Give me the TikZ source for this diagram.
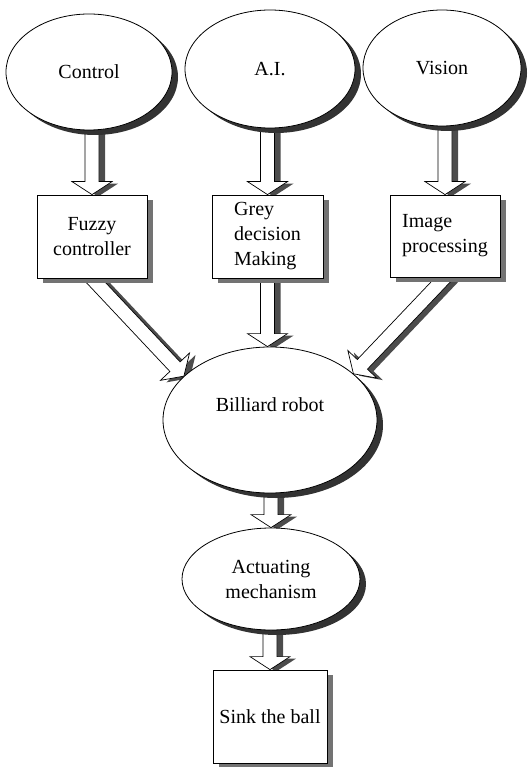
\documentclass[tikz,border=0pt]{standalone}
\usepackage{fontspec}
\setmainfont{Liberation Serif}
\usetikzlibrary{shapes.geometric,calc}
\pgfdeclarelayer{bg}
\pgfdeclarelayer{sh}
\pgfsetlayers{bg,sh,main}
\tikzset{
  txt/.style={font=\fontsize{20}{25}\selectfont},
  ell/.style={ellipse, draw=black, line width=0.8pt, fill=white, inner sep=0pt, align=center, txt},
  box/.style={rectangle, draw=black, line width=0.8pt, fill=white, inner sep=0pt, txt},
  ellshadow/.style={fill=black!80},
  boxshadow/.style={fill=black!55},
  arrmain/.style={draw=black, line width=0.7pt, fill=white, line join=miter},
  arrshadow/.style={fill=black!70},
}
\newcommand{\arrpoly}[3]{%
  \coordinate (qa) at #2;
  \coordinate (qb) at #3;
  \coordinate (qh) at ($(qb)!13pt!(qa)$);
  \path[#1] ($(qa)!7pt!90:(qb)$) -- ($(qh)!7pt!90:(qb)$) -- ($(qh)!20pt!90:(qb)$) -- (qb)
    -- ($(qh)!20pt!-90:(qb)$) -- ($(qh)!7pt!-90:(qb)$) -- ($(qa)!7pt!-90:(qb)$) -- cycle;
}
\newcommand{\blockarr}[2]{%
  \begin{pgfonlayer}{bg}
    \coordinate (pa) at #1;
    \coordinate (pb) at #2;
    \arrpoly{arrshadow}{($(pa)+(6pt,-2pt)$)}{($(pb)+(6pt,-2pt)$)}
    \arrpoly{arrmain}{(pa)}{(pb)}
  \end{pgfonlayer}}
\newcommand{\ellshad}[3]{%
  \begin{pgfonlayer}{sh}
    \fill[ellshadow] ($(#1.center)+(6pt,-5pt)$) ellipse [x radius=#2pt, y radius=#3pt];
  \end{pgfonlayer}}
\newcommand{\boxshad}[3]{%
  \begin{pgfonlayer}{sh}
    \path[boxshadow] ($(#1.center)+(6pt,-5pt)$) ++(-#2pt,-#3pt) -- ++(0pt,2*#3pt) -- ++(2*#2pt,0pt) -- ++(0pt,-2*#3pt) -- cycle;
  \end{pgfonlayer}}
\begin{document}
\begin{tikzpicture}[x=1pt,y=-1pt]
\useasboundingbox (0,0) rectangle (527,767);
\node[ell, minimum width=166pt, minimum height=116pt] (ctrl) at (89,72) {Control};
\node[ell, minimum width=170pt, minimum height=118pt] (ai) at (270,69) {A.I.};
\node[ell, minimum width=158pt, minimum height=116pt] (vis) at (442,68) {Vision};
\node[box, minimum width=110pt, minimum height=83pt, align=center] (fuzzy) at (92,236.5) {Fuzzy\\controller};
\node[box, minimum width=111pt, minimum height=83pt, align=left] (grey) at (267.5,236.5) {Grey\\ decision\\ Making};
\node[box, minimum width=110pt, minimum height=82pt, align=left] (img) at (445,236) {Image\\processing};
\node[ell, minimum width=214pt, minimum height=146pt] (bil) at (270,420) {Billiard robot\\[6pt]};
\node[ell, minimum width=178pt, minimum height=102pt] (act) at (271,579) {Actuating\\mechanism};
\node[box, minimum width=114pt, minimum height=93pt] (sink) at (270,716.5) {Sink the ball};
\ellshad{ctrl}{83}{58}
\ellshad{ai}{85}{59}
\ellshad{vis}{79}{58}
\ellshad{bil}{107}{73}
\ellshad{act}{89}{51}
\boxshad{fuzzy}{55}{41.5}
\boxshad{grey}{55.5}{41.5}
\boxshad{img}{55}{41}
\boxshad{sink}{57}{46.5}
\blockarr{(fuzzy.north |- ctrl.center)}{(fuzzy.north)}
\blockarr{(grey.north |- ai.center)}{(grey.north)}
\blockarr{(img.north |- vis.center)}{(img.north)}
\blockarr{($(fuzzy.south)!-20pt!(bil.153)$)}{(bil.153)}
\blockarr{(grey.center)}{(grey.south |- bil.north)}
\blockarr{($(img.south)!-20pt!(bil.29)$)}{(bil.29)}
\blockarr{(act.north |- bil.center)}{(act.north)}
\blockarr{(sink.north |- act.center)}{(sink.north)}
\end{tikzpicture}
\end{document}
